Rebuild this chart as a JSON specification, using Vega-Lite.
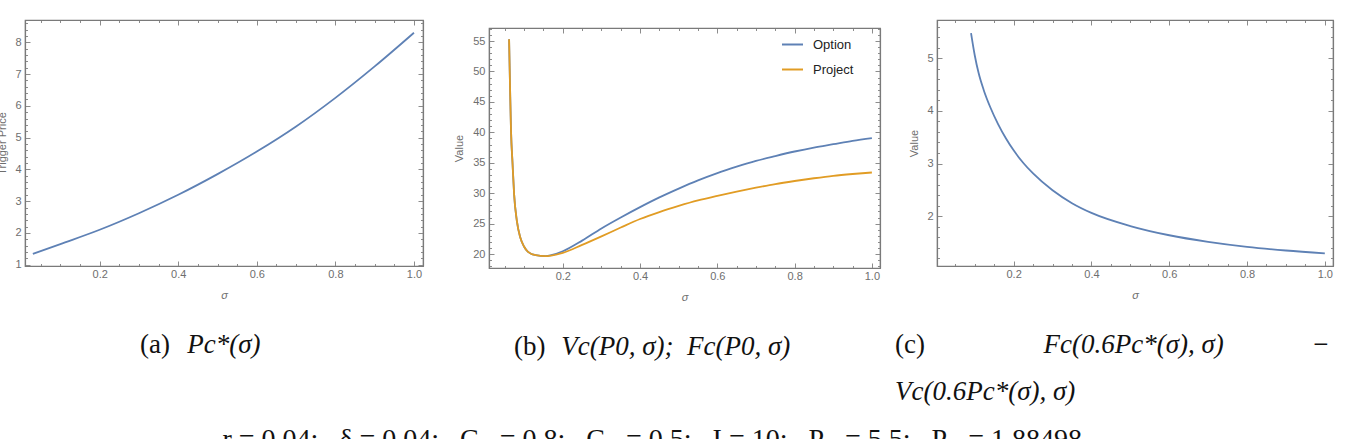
{
  "$schema": "https://vega.github.io/schema/vega-lite/v6.json",
  "background": "white",
  "padding": {"left": -4, "top": 16, "right": 0, "bottom": 0},
  "datasets": {
    "trigger": [
      {"sigma": 0.03, "price": 1.34},
      {"sigma": 0.1, "price": 1.65},
      {"sigma": 0.2, "price": 2.1},
      {"sigma": 0.3, "price": 2.62},
      {"sigma": 0.4, "price": 3.2},
      {"sigma": 0.5, "price": 3.85},
      {"sigma": 0.6, "price": 4.56},
      {"sigma": 0.7, "price": 5.35},
      {"sigma": 0.8, "price": 6.25},
      {"sigma": 0.9, "price": 7.24},
      {"sigma": 1.0, "price": 8.3}
    ],
    "values": [
      {"sigma": 0.061, "series": "Option", "value": 55.3},
      {"sigma": 0.0635, "series": "Option", "value": 47.3},
      {"sigma": 0.066, "series": "Option", "value": 40.2},
      {"sigma": 0.07, "series": "Option", "value": 34.8},
      {"sigma": 0.074, "series": "Option", "value": 29.8},
      {"sigma": 0.081, "series": "Option", "value": 25.5},
      {"sigma": 0.09, "series": "Option", "value": 22.7},
      {"sigma": 0.1, "series": "Option", "value": 21.2},
      {"sigma": 0.11, "series": "Option", "value": 20.35},
      {"sigma": 0.13, "series": "Option", "value": 19.8},
      {"sigma": 0.155, "series": "Option", "value": 19.65},
      {"sigma": 0.17, "series": "Option", "value": 19.8},
      {"sigma": 0.2, "series": "Option", "value": 20.45},
      {"sigma": 0.25, "series": "Option", "value": 22.2},
      {"sigma": 0.3, "series": "Option", "value": 24.2},
      {"sigma": 0.35, "series": "Option", "value": 26.0},
      {"sigma": 0.4, "series": "Option", "value": 27.7},
      {"sigma": 0.45, "series": "Option", "value": 29.3},
      {"sigma": 0.5, "series": "Option", "value": 30.75},
      {"sigma": 0.55, "series": "Option", "value": 32.1},
      {"sigma": 0.6, "series": "Option", "value": 33.3},
      {"sigma": 0.65, "series": "Option", "value": 34.35},
      {"sigma": 0.7, "series": "Option", "value": 35.3},
      {"sigma": 0.75, "series": "Option", "value": 36.1},
      {"sigma": 0.8, "series": "Option", "value": 36.85},
      {"sigma": 0.85, "series": "Option", "value": 37.5},
      {"sigma": 0.9, "series": "Option", "value": 38.05},
      {"sigma": 0.95, "series": "Option", "value": 38.6},
      {"sigma": 1.0, "series": "Option", "value": 39.05},
      {"sigma": 0.061, "series": "Project", "value": 55.3},
      {"sigma": 0.0635, "series": "Project", "value": 47.3},
      {"sigma": 0.066, "series": "Project", "value": 40.2},
      {"sigma": 0.07, "series": "Project", "value": 34.8},
      {"sigma": 0.074, "series": "Project", "value": 29.8},
      {"sigma": 0.081, "series": "Project", "value": 25.5},
      {"sigma": 0.09, "series": "Project", "value": 22.7},
      {"sigma": 0.1, "series": "Project", "value": 21.2},
      {"sigma": 0.11, "series": "Project", "value": 20.35},
      {"sigma": 0.13, "series": "Project", "value": 19.8},
      {"sigma": 0.155, "series": "Project", "value": 19.65},
      {"sigma": 0.17, "series": "Project", "value": 19.75},
      {"sigma": 0.2, "series": "Project", "value": 20.2},
      {"sigma": 0.25, "series": "Project", "value": 21.5},
      {"sigma": 0.3, "series": "Project", "value": 22.9},
      {"sigma": 0.35, "series": "Project", "value": 24.35},
      {"sigma": 0.4, "series": "Project", "value": 25.75},
      {"sigma": 0.45, "series": "Project", "value": 26.9},
      {"sigma": 0.5, "series": "Project", "value": 27.9},
      {"sigma": 0.55, "series": "Project", "value": 28.8},
      {"sigma": 0.6, "series": "Project", "value": 29.55},
      {"sigma": 0.65, "series": "Project", "value": 30.25},
      {"sigma": 0.7, "series": "Project", "value": 30.9},
      {"sigma": 0.75, "series": "Project", "value": 31.5},
      {"sigma": 0.8, "series": "Project", "value": 32.0},
      {"sigma": 0.85, "series": "Project", "value": 32.45},
      {"sigma": 0.9, "series": "Project", "value": 32.85},
      {"sigma": 0.95, "series": "Project", "value": 33.15},
      {"sigma": 1.0, "series": "Project", "value": 33.4}
    ],
    "diff": [
      {"sigma": 0.0905, "value": 5.48},
      {"sigma": 0.1, "value": 5.06},
      {"sigma": 0.11, "value": 4.72},
      {"sigma": 0.123, "value": 4.4},
      {"sigma": 0.14, "value": 4.07},
      {"sigma": 0.16, "value": 3.75},
      {"sigma": 0.18, "value": 3.48},
      {"sigma": 0.2, "value": 3.25},
      {"sigma": 0.225, "value": 3.01},
      {"sigma": 0.25, "value": 2.81},
      {"sigma": 0.3, "value": 2.49},
      {"sigma": 0.35, "value": 2.245},
      {"sigma": 0.4, "value": 2.06},
      {"sigma": 0.5, "value": 1.81},
      {"sigma": 0.6, "value": 1.635},
      {"sigma": 0.7, "value": 1.51},
      {"sigma": 0.8, "value": 1.415},
      {"sigma": 0.9, "value": 1.345},
      {"sigma": 1.0, "value": 1.29}
    ]
  },
  "title": {
    "text": "r\u00a0=\u00a00.04;\u00a0\u00a0\u00a0δ\u00a0=\u00a00.04;\u00a0\u00a0\u00a0C\u00a0\u00a0\u00a0=\u00a00.8;\u00a0\u00a0\u00a0C\u00a0\u00a0\u00a0=\u00a00.5;\u00a0\u00a0\u00a0I\u00a0=\u00a010;\u00a0\u00a0\u00a0P\u00a0\u00a0\u00a0=\u00a05.5;\u00a0\u00a0\u00a0P\u00a0\u00a0\u00a0=\u00a01.88498",
    "orient": "bottom",
    "anchor": "middle",
    "dx": -13,
    "offset": 21,
    "font": "Liberation Serif",
    "fontSize": 28,
    "fontWeight": "normal",
    "color": "#111111"
  },
  "spacing": 28,
  "resolve": {"legend": {"color": "independent"}},
  "hconcat": [
    {
      "width": 398,
      "height": 246,
      "data": {"name": "trigger"},
      "title": {
        "text": "(a)",
        "subtitle": "\u200b\u00a0\u00a0\u00a0\u00a0\u00a0\u00a0\u00a0Pc*(σ)",
        "orient": "bottom",
        "anchor": "start",
        "frame": "group",
        "dx": 115,
        "offset": 31,
        "font": "Liberation Serif",
        "fontSize": 27,
        "fontWeight": "normal",
        "color": "#111111",
        "subtitleFont": "Liberation Serif",
        "subtitleFontSize": 27,
        "subtitleFontStyle": "italic",
        "subtitleColor": "#111111",
        "subtitlePadding": -27
      },
      "layer": [
        {
          "mark": {"type": "line", "color": "#5E81B5", "strokeWidth": 1.8, "interpolate": "monotone"},
          "encoding": {
            "x": {
              "field": "sigma", "type": "quantitative",
              "scale": {"domain": [0.01, 1.023], "nice": false, "zero": false},
              "axis": {
                "orient": "bottom", "title": "σ", "titleFontStyle": "italic", "titlePadding": 8,
                "values": [0.05,0.1,0.15,0.2,0.25,0.3,0.35,0.4,0.45,0.5,0.55,0.6,0.65,0.7,0.75,0.8,0.85,0.9,0.95,1.0],
                "tickSize": {"condition": {"test": "abs(datum.value*5 - round(datum.value*5)) < 0.000001", "value": -5}, "value": -2.5},
                "labelExpr": "abs(datum.value*5 - round(datum.value*5)) < 0.000001 ? format(datum.value, '.1f') : ''",
                "labelPadding": 7
              }
            },
            "y": {
              "field": "price", "type": "quantitative",
              "scale": {"domain": [0.96, 8.7], "nice": false, "zero": false},
              "axis": {
                "orient": "left", "title": "Trigger Price", "titlePadding": 7,
                "values": [1,1.2,1.4,1.6,1.8,2,2.2,2.4,2.6,2.8,3,3.2,3.4,3.6,3.8,4,4.2,4.4,4.6,4.8,5,5.2,5.4,5.6,5.8,6,6.2,6.4,6.6,6.8,7,7.2,7.4,7.6,7.8,8,8.2,8.4,8.6],
                "tickSize": {"condition": {"test": "abs(datum.value - round(datum.value)) < 0.000001", "value": -5}, "value": -2.5},
                "labelExpr": "abs(datum.value - round(datum.value)) < 0.000001 ? format(datum.value, 'd') : ''",
                "labelPadding": 9
              }
            }
          }
        },
        {
          "mark": {"type": "line", "opacity": 0},
          "encoding": {
            "x": {
              "field": "sigma", "type": "quantitative",
              "axis": {
                "orient": "top", "title": null, "labels": false,
                "values": [0.05,0.1,0.15,0.2,0.25,0.3,0.35,0.4,0.45,0.5,0.55,0.6,0.65,0.7,0.75,0.8,0.85,0.9,0.95,1.0],
                "tickSize": {"condition": {"test": "abs(datum.value*5 - round(datum.value*5)) < 0.000001", "value": -5}, "value": -2.5}
              }
            },
            "y": {
              "field": "price", "type": "quantitative",
              "axis": {
                "orient": "right", "title": null, "labels": false,
                "values": [1,1.2,1.4,1.6,1.8,2,2.2,2.4,2.6,2.8,3,3.2,3.4,3.6,3.8,4,4.2,4.4,4.6,4.8,5,5.2,5.4,5.6,5.8,6,6.2,6.4,6.6,6.8,7,7.2,7.4,7.6,7.8,8,8.2,8.4,8.6],
                "tickSize": {"condition": {"test": "abs(datum.value - round(datum.value)) < 0.000001", "value": -5}, "value": -2.5}
              }
            }
          }
        }
      ],
      "resolve": {"axis": {"x": "independent", "y": "independent"}}
    },
    {
      "spacing": 12,
      "resolve": {"legend": {"color": "independent"}},
      "hconcat": [
        {
          "spacing": 1,
          "resolve": {"legend": {"color": "independent"}},
          "vconcat": [
            {
              "width": 391,
              "height": 1,
              "data": {"values": []},
              "mark": "point",
              "view": {"stroke": null}
            },
            {
              "width": 391,
              "height": 240,
              "data": {"name": "values"},
              "title": {
                "text": "(b)",
                "subtitle": "\u200b\u00a0\u00a0\u00a0\u00a0\u00a0\u00a0\u00a0Vc(P0, σ);\u00a0\u00a0Fc(P0, σ)",
                "orient": "bottom",
                "anchor": "start",
                "frame": "group",
                "dx": 25,
                "offset": 31,
                "font": "Liberation Serif",
                "fontSize": 27,
                "fontWeight": "normal",
                "color": "#111111",
                "subtitleFont": "Liberation Serif",
                "subtitleFontSize": 27,
                "subtitleFontStyle": "italic",
                "subtitleColor": "#111111",
                "subtitlePadding": -27
              },
              "layer": [
                {
                  "mark": {"type": "line", "strokeWidth": 1.8, "interpolate": "monotone"},
                  "encoding": {
                    "x": {
                      "field": "sigma", "type": "quantitative",
                      "scale": {"domain": [0.009, 1.021], "nice": false, "zero": false},
                      "axis": {
                        "orient": "bottom", "title": "σ", "titleFontStyle": "italic", "titlePadding": 8,
                        "values": [0.05,0.1,0.15,0.2,0.25,0.3,0.35,0.4,0.45,0.5,0.55,0.6,0.65,0.7,0.75,0.8,0.85,0.9,0.95,1.0],
                        "tickSize": {"condition": {"test": "abs(datum.value*5 - round(datum.value*5)) < 0.000001", "value": -5}, "value": -2.5},
                        "labelExpr": "abs(datum.value*5 - round(datum.value*5)) < 0.000001 ? format(datum.value, '.1f') : ''",
                        "labelPadding": 7
                      }
                    },
                    "y": {
                      "field": "value", "type": "quantitative",
                      "scale": {"domain": [17.7, 57.15], "nice": false, "zero": false},
                      "axis": {
                        "orient": "left", "title": "Value", "titlePadding": 8,
                        "values": [18,19,20,21,22,23,24,25,26,27,28,29,30,31,32,33,34,35,36,37,38,39,40,41,42,43,44,45,46,47,48,49,50,51,52,53,54,55,56,57],
                        "tickSize": {"condition": {"test": "datum.value % 5 == 0", "value": -5}, "value": -2.5},
                        "labelExpr": "datum.value % 5 == 0 ? format(datum.value, 'd') : ''",
                        "labelPadding": 9
                      }
                    },
                    "color": {
                      "field": "series", "type": "nominal",
                      "scale": {"domain": ["Option", "Project"], "range": ["#5E81B5", "#E19C24"]},
                      "legend": {
                        "orient": "none", "legendX": 292, "legendY": 5,
                        "title": null, "padding": 0,
                        "symbolType": "stroke", "symbolSize": 441, "symbolStrokeWidth": 2,
                        "labelFont": "Liberation Sans", "labelFontSize": 13, "labelColor": "#222222",
                        "labelOffset": 9, "rowPadding": 6
                      }
                    }
                  }
                },
                {
                  "mark": {"type": "line", "opacity": 0},
                  "encoding": {
                    "detail": {"field": "series"},
                    "x": {
                      "field": "sigma", "type": "quantitative",
                      "axis": {
                        "orient": "top", "title": null, "labels": false,
                        "values": [0.05,0.1,0.15,0.2,0.25,0.3,0.35,0.4,0.45,0.5,0.55,0.6,0.65,0.7,0.75,0.8,0.85,0.9,0.95,1.0],
                        "tickSize": {"condition": {"test": "abs(datum.value*5 - round(datum.value*5)) < 0.000001", "value": -5}, "value": -2.5}
                      }
                    },
                    "y": {
                      "field": "value", "type": "quantitative",
                      "axis": {
                        "orient": "right", "title": null, "labels": false,
                        "values": [18,19,20,21,22,23,24,25,26,27,28,29,30,31,32,33,34,35,36,37,38,39,40,41,42,43,44,45,46,47,48,49,50,51,52,53,54,55,56,57],
                        "tickSize": {"condition": {"test": "datum.value % 5 == 0", "value": -5}, "value": -2.5}
                      }
                    }
                  }
                }
              ],
              "resolve": {"axis": {"x": "independent", "y": "independent"}}
            }
          ]
        },
        {
          "width": 396,
          "height": 246,
          "data": {"name": "diff"},
          "title": {
            "text": "(c)",
            "subtitle": ["\u200b\u00a0\u00a0\u00a0\u00a0\u00a0\u00a0\u00a0\u00a0\u00a0\u00a0\u00a0\u00a0\u00a0\u00a0\u00a0\u00a0\u00a0\u00a0\u00a0\u00a0\u00a0\u00a0Fc(0.6Pc*(σ), σ)\u00a0\u00a0\u00a0\u00a0\u00a0\u00a0\u00a0\u00a0\u00a0\u00a0\u00a0\u00a0\u00a0−", "Vc(0.6Pc*(σ), σ)"],
            "orient": "bottom",
            "anchor": "start",
            "frame": "group",
            "dx": -42,
            "offset": 31,
            "font": "Liberation Serif",
            "fontSize": 27,
            "fontWeight": "normal",
            "color": "#111111",
            "subtitleFont": "Liberation Serif",
            "subtitleFontSize": 27,
            "subtitleFontStyle": "italic",
            "subtitleColor": "#111111",
            "subtitleLineHeight": 47,
            "subtitlePadding": -27
          },
          "layer": [
            {
              "mark": {"type": "line", "color": "#5E81B5", "strokeWidth": 1.8, "interpolate": "monotone"},
              "encoding": {
                "x": {
                  "field": "sigma", "type": "quantitative",
                  "scale": {"domain": [0.003, 1.021], "nice": false, "zero": false},
                  "axis": {
                    "orient": "bottom", "title": "σ", "titleFontStyle": "italic", "titlePadding": 8,
                    "values": [0.05,0.1,0.15,0.2,0.25,0.3,0.35,0.4,0.45,0.5,0.55,0.6,0.65,0.7,0.75,0.8,0.85,0.9,0.95,1.0],
                    "tickSize": {"condition": {"test": "abs(datum.value*5 - round(datum.value*5)) < 0.000001", "value": -5}, "value": -2.5},
                    "labelExpr": "abs(datum.value*5 - round(datum.value*5)) < 0.000001 ? format(datum.value, '.1f') : ''",
                    "labelPadding": 7
                  }
                },
                "y": {
                  "field": "value", "type": "quantitative",
                  "scale": {"domain": [1.05, 5.73], "nice": false, "zero": false},
                  "axis": {
                    "orient": "left", "title": "Value", "titlePadding": 7,
                    "values": [1.2,1.4,1.6,1.8,2,2.2,2.4,2.6,2.8,3,3.2,3.4,3.6,3.8,4,4.2,4.4,4.6,4.8,5,5.2,5.4,5.6],
                    "tickSize": {"condition": {"test": "abs(datum.value - round(datum.value)) < 0.000001", "value": -5}, "value": -2.5},
                    "labelExpr": "abs(datum.value - round(datum.value)) < 0.000001 ? format(datum.value, 'd') : ''",
                    "labelPadding": 9
                  }
                }
              }
            },
            {
              "mark": {"type": "line", "opacity": 0},
              "encoding": {
                "x": {
                  "field": "sigma", "type": "quantitative",
                  "axis": {
                    "orient": "top", "title": null, "labels": false,
                    "values": [0.05,0.1,0.15,0.2,0.25,0.3,0.35,0.4,0.45,0.5,0.55,0.6,0.65,0.7,0.75,0.8,0.85,0.9,0.95,1.0],
                    "tickSize": {"condition": {"test": "abs(datum.value*5 - round(datum.value*5)) < 0.000001", "value": -5}, "value": -2.5}
                  }
                },
                "y": {
                  "field": "value", "type": "quantitative",
                  "axis": {
                    "orient": "right", "title": null, "labels": false,
                    "values": [1.2,1.4,1.6,1.8,2,2.2,2.4,2.6,2.8,3,3.2,3.4,3.6,3.8,4,4.2,4.4,4.6,4.8,5,5.2,5.4,5.6],
                    "tickSize": {"condition": {"test": "abs(datum.value - round(datum.value)) < 0.000001", "value": -5}, "value": -2.5}
                  }
                }
              }
            }
          ],
          "resolve": {"axis": {"x": "independent", "y": "independent"}}
        }
      ]
    }
  ],
  "config": {
    "view": {"stroke": "#7a7a7a", "strokeWidth": 1.2},
    "axis": {
      "domain": true,
      "domainColor": "#7a7a7a",
      "domainWidth": 1.2,
      "grid": false,
      "tickColor": "#8c8c8c",
      "tickWidth": 1,
      "labelColor": "#6e6e6e",
      "labelFont": "Liberation Sans",
      "labelFontSize": 11,
      "labelOverlap": false,
      "labelFlush": false,
      "labelBound": false,
      "titleColor": "#6e6e6e",
      "titleFont": "Liberation Sans",
      "titleFontSize": 11,
      "titleFontWeight": "normal"
    }
  }
}
